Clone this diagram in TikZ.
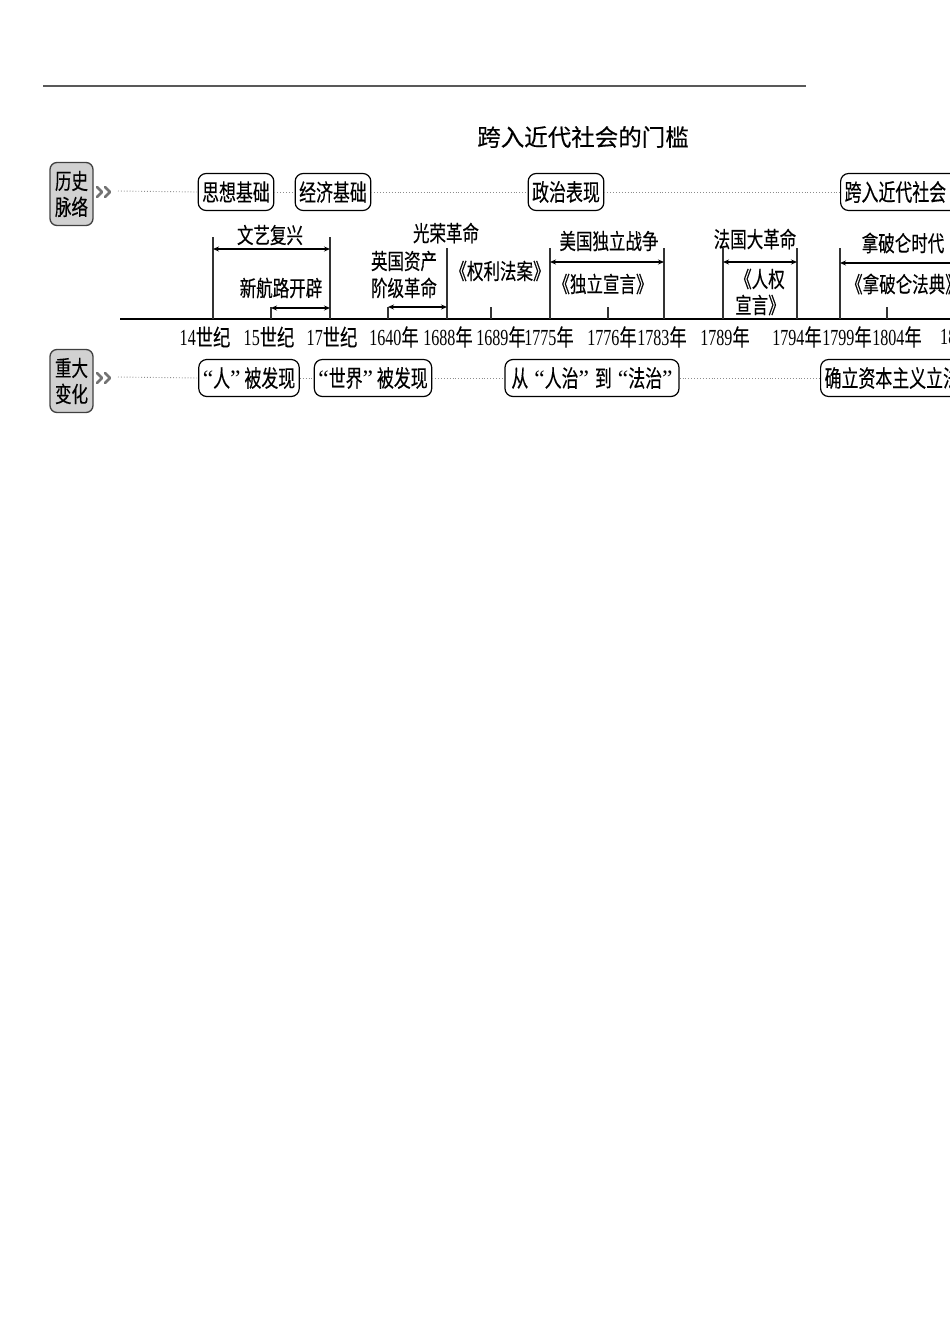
\documentclass[tikz,border=0pt]{standalone}
\usepackage{fontspec}
\setmainfont{Liberation Serif}[FakeStretch=0.7]
\newfontfamily\cjk{Noto Sans CJK SC}[FakeStretch=0.75,FakeBold=0.3]
\newfontfamily\cjkb{Noto Sans CJK SC}[FakeStretch=0.72,FakeBold=0.3]
\newfontfamily\cjkw{Noto Sans CJK SC}[FakeBold=0.3]
\newfontfamily\qf{Liberation Serif}
\usetikzlibrary{arrows.meta,calc}
\newcommand\yr[1]{#1{\cjk 年}}
\newcommand\sj[1]{#1{\cjk 世纪}}
\newcommand\oq{{\qf “}}
\newcommand\cq{{\qf ”}}
\begin{document}
\begin{tikzpicture}[x=1pt,y=-1pt,
  cj/.style={font=\cjk\fontsize{22}{26}\selectfont, inner sep=0pt},
  yl/.style={font=\fontsize{23}{25}\selectfont, inner sep=0pt},
  rbox/.style={draw, line width=1.2pt, rounded corners=8pt, minimum height=37pt, inner xsep=4pt, inner ysep=0pt, font=\cjkb\fontsize{23.5}{26}\selectfont},
  sbox/.style={draw=black!75, fill=black!18, line width=1.3pt, rounded corners=7pt, minimum width=43pt, minimum height=63pt, inner sep=0pt, align=center, font=\cjk\fontsize{22}{26}\selectfont},
  dotl/.style={dotted, line width=0.9pt, black!45},
  vln/.style={line width=1.1pt, black!80},
  dbl/.style={line width=1.2pt, {Stealth[length=6pt,width=5pt]}-{Stealth[length=6pt,width=5pt]}},
  lft/.style={line width=1.2pt, {Stealth[length=6pt,width=5pt]}-},
  chev/.style={line width=2.6pt, black!55, line cap=round, line join=round}]
\useasboundingbox (0,0) rectangle (950,1344);
\clip (0,0) rectangle (950,1344);

% top rule and title
\draw[line width=2pt, black!65] (43,86) -- (806,86);
\node[font=\cjkw\fontsize{23.5}{26}\selectfont, inner sep=0pt] (title) at (583,137) {跨入近代社会的门槛};

% side labels
\node[sbox] (hist) at (71.5,194) {历史\\脉络};
\node[sbox] (chg) at (71.5,381) {重大\\变化};
\draw[chev] (97,187) -- (102,192) -- (97,197);
\draw[chev] (105,187) -- (110,192) -- (105,197);
\draw[chev] (97,373) -- (102,378) -- (97,383);
\draw[chev] (105,373) -- (110,378) -- (105,383);

% top row boxes
\node[rbox] (think) at (236,192) {思想基础};
\node[rbox] (econ) at (333,192) {经济基础};
\node[rbox] (poli) at (566,192) {政治表现};
\node[rbox, anchor=west, text width=140pt, align=left] (modern) at (840,192) {跨入近代社会};
\coordinate (h0) at (118,191);
\draw[dotl] (h0) -- (think.west);
\draw[dotl] (think.east) -- (econ.west);
\draw[dotl] (econ.east) -- (poli.west);
\draw[dotl] (poli.east) -- (modern.west);

% bottom row boxes
\node[rbox, minimum width=98pt] (ren) at (249,378) {\oq 人\cq\,被发现};
\node[rbox, minimum width=114pt] (world) at (373,378) {\oq 世界\cq\,被发现};
\node[rbox, minimum width=174pt] (law) at (592,378) {从\hspace{6pt}\oq 人治\cq\hspace{6pt}到\hspace{6pt}\oq 法治\cq};
\node[rbox, anchor=west, text width=160pt, align=left] (legal) at (820,378) {确立资本主义立法};
\coordinate (b0) at (118,377);
\draw[dotl] (b0) -- (ren.west);
\draw[dotl] (ren.east) -- (world.west);
\draw[dotl] (world.east) -- (law.west);
\draw[dotl] (law.east) -- (legal.west);

% axis
\coordinate (axl) at (120,319);
\coordinate (axr) at (960,319);
\draw[line width=2pt] (axl) -- (axr);

\coordinate (t14) at (213,319);
\coordinate (t15) at (271,319);
\coordinate (t17) at (330,319);
\coordinate (t1640) at (388,319);
\coordinate (t1688) at (447,319);
\coordinate (t1689) at (491,319);
\coordinate (t1775) at (550,319);
\coordinate (t1776) at (608,319);
\coordinate (t1783) at (664,319);
\coordinate (t1789) at (723,319);
\coordinate (t1794) at (797,319);
\coordinate (t1799) at (840,319);
\coordinate (t1804) at (887,319);

% tall verticals
\draw[vln] (t14) -- (t14 |- 0,237);
\draw[vln] (t17) -- (t17 |- 0,237);
\foreach \t in {t1688,t1775,t1783,t1789,t1794,t1799}
  \draw[vln] (\t) -- (\t |- 0,248);
% short ticks
\foreach \t in {t15,t1640,t1689,t1776,t1804}
  \draw[vln] (\t) -- (\t |- 0,307);

% arrows
\draw[dbl] (t14 |- 0,249) -- (t17 |- 0,249);
\draw[dbl] (t15 |- 0,308) -- (t17 |- 0,308);
\draw[dbl] (t1640 |- 0,307) -- (t1688 |- 0,307);
\draw[dbl] (t1775 |- 0,262) -- (t1783 |- 0,262);
\draw[dbl] (t1789 |- 0,262) -- (t1794 |- 0,262);
\coordinate (napr) at (960,263);
\draw[lft] (t1799 |- 0,263) -- (napr);

% period labels
\node[cj] (ry) at (270,235) {文艺复兴};
\node[cj] (xhl) at (281,288) {新航路开辟};
\node[cj, align=center, font=\cjk\fontsize{22}{27}\selectfont] (eng) at (404,274.5) {英国资产\\阶级革命};
\node[cj] (grg) at (446,233) {光荣革命};
\node[cj] (qlfa) at (500,271) {《权利法案》};
\node[cj] (mgzz) at (609,241) {美国独立战争};
\node[cj] (dlxy) at (603,284) {《独立宣言》};
\node[cj] (fgdg) at (755,239) {法国大革命};
\node[cj, align=center] (rqxy) at (760,292) {《人权\\宣言》};
\node[cj] (npl) at (903,243) {拿破仑时代};
\node[cj, anchor=west] (nplfd) at (846,284) {《拿破仑法典》};

% tick labels
\node[yl] (l14) at (205,337) {\sj{14}};
\node[yl] (l15) at (269,337) {\sj{15}};
\node[yl] (l17) at (332,337) {\sj{17}};
\node[yl] (l1640) at (394,337) {\yr{1640}};
\node[yl] (l1688) at (448,337) {\yr{1688}};
\node[yl] (l1689) at (501,337) {\yr{1689}};
\node[yl] (l1775) at (549,337) {\yr{1775}};
\node[yl] (l1776) at (612,337) {\yr{1776}};
\node[yl] (l1783) at (662,337) {\yr{1783}};
\node[yl] (l1789) at (725,337) {\yr{1789}};
\node[yl] (l1794) at (797,337) {\yr{1794}};
\node[yl] (l1799) at (847,337) {\yr{1799}};
\node[yl] (l1804) at (897,337) {\yr{1804}};
\node[yl, anchor=west] (l18) at (940,337) {18};
\end{tikzpicture}
\end{document}
